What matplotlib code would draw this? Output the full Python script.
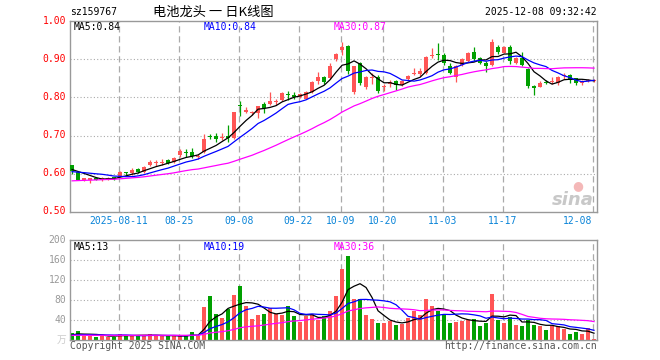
import numpy as np
import pandas as pd
import matplotlib
matplotlib.use('Agg')
import matplotlib.pyplot as plt

# ---------------- data ----------------
open_ = [0.622, 0.604, 0.585, 0.585, 0.587, 0.585, 0.587, 0.590, 0.594, 0.604,
         0.603, 0.612, 0.604, 0.624, 0.627, 0.629, 0.635, 0.630, 0.648, 0.657,
         0.657, 0.643, 0.657, 0.700, 0.698, 0.694, 0.697, 0.694, 0.779, 0.762,
         0.760, 0.758, 0.784, 0.782, 0.789, 0.793, 0.810, 0.806, 0.802, 0.797,
         0.815, 0.844, 0.853, 0.850, 0.900, 0.923, 0.935, 0.815, 0.889, 0.828,
         0.851, 0.854, 0.826, 0.836, 0.843, 0.832, 0.847, 0.861, 0.862, 0.863,
         0.908, 0.913, 0.912, 0.882, 0.854, 0.885, 0.894, 0.920, 0.903, 0.891,
         0.885, 0.932, 0.917, 0.932, 0.889, 0.903, 0.874, 0.831, 0.828, 0.840,
         0.840, 0.838, 0.855, 0.859, 0.850, 0.837, 0.843, 0.843]
high = [0.623, 0.605, 0.590, 0.589, 0.590, 0.591, 0.591, 0.592, 0.607, 0.606,
        0.614, 0.614, 0.620, 0.636, 0.636, 0.638, 0.638, 0.643, 0.665, 0.665,
        0.668, 0.652, 0.703, 0.705, 0.707, 0.707, 0.727, 0.763, 0.791, 0.776,
        0.764, 0.778, 0.789, 0.815, 0.797, 0.815, 0.817, 0.813, 0.812, 0.818,
        0.842, 0.867, 0.857, 0.889, 0.917, 0.946, 0.937, 0.883, 0.892, 0.857,
        0.863, 0.858, 0.836, 0.845, 0.845, 0.846, 0.858, 0.876, 0.878, 0.908,
        0.929, 0.942, 0.915, 0.890, 0.884, 0.903, 0.919, 0.933, 0.906, 0.895,
        0.953, 0.937, 0.935, 0.937, 0.906, 0.918, 0.876, 0.833, 0.842, 0.846,
        0.853, 0.856, 0.865, 0.862, 0.852, 0.845, 0.848, 0.848]
low = [0.600, 0.583, 0.581, 0.577, 0.583, 0.582, 0.583, 0.585, 0.592, 0.598,
       0.598, 0.602, 0.602, 0.620, 0.620, 0.622, 0.626, 0.628, 0.645, 0.645,
       0.642, 0.640, 0.655, 0.690, 0.684, 0.689, 0.684, 0.692, 0.751, 0.758,
       0.754, 0.746, 0.760, 0.779, 0.781, 0.790, 0.794, 0.795, 0.798, 0.795,
       0.812, 0.835, 0.834, 0.848, 0.896, 0.911, 0.862, 0.810, 0.832, 0.822,
       0.834, 0.812, 0.818, 0.828, 0.820, 0.829, 0.845, 0.858, 0.855, 0.862,
       0.903, 0.898, 0.885, 0.860, 0.841, 0.883, 0.892, 0.894, 0.888, 0.866,
       0.883, 0.914, 0.915, 0.887, 0.887, 0.882, 0.824, 0.806, 0.826, 0.836,
       0.834, 0.833, 0.848, 0.838, 0.833, 0.833, 0.840, 0.841]
close = [0.608, 0.585, 0.587, 0.586, 0.585, 0.588, 0.589, 0.588, 0.606, 0.602,
         0.610, 0.604, 0.619, 0.632, 0.629, 0.631, 0.628, 0.642, 0.659, 0.654,
         0.646, 0.646, 0.692, 0.696, 0.691, 0.697, 0.695, 0.762, 0.777, 0.767,
         0.763, 0.777, 0.771, 0.791, 0.790, 0.812, 0.807, 0.802, 0.808, 0.815,
         0.841, 0.853, 0.841, 0.881, 0.914, 0.932, 0.870, 0.881, 0.838, 0.854,
         0.853, 0.817, 0.829, 0.840, 0.832, 0.843, 0.855, 0.865, 0.868, 0.907,
         0.912, 0.910, 0.890, 0.863, 0.881, 0.901, 0.917, 0.900, 0.891, 0.882,
         0.944, 0.918, 0.932, 0.894, 0.903, 0.885, 0.830, 0.824, 0.839, 0.838,
         0.843, 0.853, 0.858, 0.846, 0.837, 0.843, 0.845, 0.846]
volume = [15, 18, 8, 8, 7, 10, 7, 7, 12, 8,
          10, 10, 8, 12, 8, 8, 8, 8, 8, 8,
          16, 8, 67, 88, 53, 45, 63, 90, 108, 68,
          42, 50, 52, 65, 52, 50, 68, 48, 37, 48,
          52, 41, 48, 58, 88, 142, 168, 82, 83, 50,
          42, 35, 35, 38, 30, 33, 45, 58, 50, 82,
          68, 58, 51, 35, 37, 39, 41, 42, 29, 35,
          92, 40, 35, 47, 30, 28, 41, 30, 28, 20,
          28, 28, 22, 12, 16, 13, 25, 2]
# history before the visible window (implied by the starting MA levels)
prior_close = [0.566, 0.568, 0.570, 0.567, 0.569, 0.571, 0.572, 0.570, 0.568, 0.569,
               0.570, 0.571, 0.569, 0.568, 0.570, 0.572, 0.571, 0.569, 0.570, 0.571,
               0.598, 0.600, 0.601, 0.600, 0.601, 0.611, 0.612, 0.613, 0.612]
prior_volume = [9, 8, 9, 10, 8, 9, 9, 8, 10, 9,
                8, 9, 9, 10, 8, 9, 9, 8, 9, 10,
                9, 8, 9, 10, 9, 9, 10, 9, 9]

tick_idx = [8, 18, 28, 38, 45, 52, 62, 72, 87]
tick_labels = ['2025-08-11', '08-25', '09-08', '09-22', '10-09',
               '10-20', '11-03', '11-17', '12-08']
price_ticks = [0.50, 0.60, 0.70, 0.80, 0.90, 1.00]
vol_ticks = [40, 80, 120, 160, 200]
ma_periods = [5, 10, 30]
ma_colors = ['#000000', '#0000ff', '#ff00ff']

# ---------------- styling ----------------
W, H = 660, 360
RED, GREEN = '#ff5555', '#00a000'
GRID = '#aaaaaa'
MONO = ['DejaVu Sans Mono', 'Noto Sans CJK SC']
plt.rcParams['font.family'] = MONO

fig = plt.figure(figsize=(W / 100, H / 100), dpi=100)
fig.patch.set_facecolor('white')


def px_rect(x0, y0, x1, y1):
    return [x0 / W, 1 - y1 / H, (x1 - x0) / W, (y1 - y0) / H]


def ftext(x, y, s, **kw):
    fig.text(x / W, 1 - y / H, s, **kw)


ax = fig.add_axes(px_rect(70, 21, 597, 212))
axv = fig.add_axes(px_rect(70, 240, 597, 340))

n = len(close)
x = np.arange(n)
o = np.array(open_); h = np.array(high); l = np.array(low); c = np.array(close)
v = np.array(volume, dtype=float)
up = c >= o
cols = [RED if u else GREEN for u in up]

full_close = pd.Series(list(prior_close) + list(close))
full_vol = pd.Series(list(prior_volume) + list(volume), dtype=float)
np_ = len(prior_close)

xlim = (-0.35, 87.5)
for a in (ax, axv):
    a.set_xlim(*xlim)
    for s in a.spines.values():
        s.set_color('#999999')
        s.set_linewidth(1.0)
    a.tick_params(length=0)
    a.set_xticks([])
    a.set_yticks([])
    for t in tick_idx:
        a.axvline(t - 0.25, color=GRID, lw=0.9, ls=(0, (5, 3)), zorder=0)

# ---- price panel ----
ax.set_ylim(0.5, 1.0)
for p in price_ticks[1:-1]:
    ax.axhline(p, color=GRID, lw=0.8, ls=(0, (1, 2)), zorder=0)
ax.vlines(x, l, h, colors=cols, lw=0.9, zorder=2)
body = np.maximum(np.abs(c - o), 0.0028)
ax.bar(x, body, bottom=np.minimum(o, c), width=0.78, color=cols, lw=0, zorder=3)
ma_last = []
for per, col in zip(ma_periods, ma_colors):
    m = full_close.rolling(per).mean().values[np_:]
    ax.plot(x, m, color=col, lw=0.9, zorder=4)
    ma_last.append(m[-1])

for p in price_ticks:
    ftext(66, 21.3 + (1.0 - p) * 380, f'{p:.2f}', color='#ff0000', fontsize=7,
          ha='right', va='center')

lab_x = [74, 204, 334]
for per, col, val, lx in zip(ma_periods, ma_colors, ma_last, lab_x):
    shown = np.floor(val * 100 + 1e-9) / 100
    ftext(lx, 27, f'MA{per}:{shown:.2f}', color=col, fontsize=7, ha='left', va='center')

# x tick labels
for t, lab in zip(tick_idx, tick_labels):
    xp = 70 + (t - 0.25 - xlim[0]) / (xlim[1] - xlim[0]) * 527
    ha = 'center'
    if t == tick_idx[-1]:
        ha = 'right'
        xp = 592
    ftext(xp, 221, lab, color='#0a84d8', fontsize=7, ha=ha, va='center')

# sina watermark
ftext(594, 200, 'sina', color='#c8c8c8', fontsize=13, ha='right', va='center',
      style='italic', fontweight='bold', family=['DejaVu Sans'])
ftext(578, 186, '\u25cf', color='#f4b8b8', fontsize=9, ha='center', va='center',
      family=['DejaVu Sans'])

# ---- volume panel ----
axv.set_ylim(0, 200)
for vt in vol_ticks[:-1]:
    axv.axhline(vt, color=GRID, lw=0.8, ls=(0, (1, 2)), zorder=0)
axv.bar(x, v, width=0.8, color=cols, lw=0, zorder=2)
vma_last = []
for per, col in zip(ma_periods, ma_colors):
    m = full_vol.rolling(per).mean().values[np_:]
    axv.plot(x, m, color=col, lw=0.9, zorder=4)
    vma_last.append(m[-1])

for vt in vol_ticks:
    ftext(66, 340 - vt / 2, f'{vt}', color='#999999', fontsize=7, ha='right', va='center')
ftext(66, 340, '万', color='#cccccc', fontsize=7, ha='right', va='center')
for per, col, val, lx in zip(ma_periods, ma_colors, vma_last, lab_x):
    ftext(lx, 247, f'MA{per}:{int(val)}', color=col, fontsize=7, ha='left', va='center')

# ---- header / footer ----
ftext(70, 12, 'sz159767', color='#000000', fontsize=7, ha='left', va='center')
ftext(213, 12, '电池龙头 一 日K线图', color='#000000', fontsize=9.5, ha='center',
      va='center', family=['Noto Sans CJK SC', 'DejaVu Sans'])
ftext(597, 12, '2025-12-08 09:32:42', color='#000000', fontsize=7, ha='right', va='center')
ftext(70, 346, 'Copyright 2025 SINA.COM', color='#555555', fontsize=7, ha='left', va='center')
ftext(597, 346, 'http://finance.sina.com.cn', color='#555555', fontsize=7,
      ha='right', va='center')

fig.savefig('out.png', dpi=100, facecolor='white')
